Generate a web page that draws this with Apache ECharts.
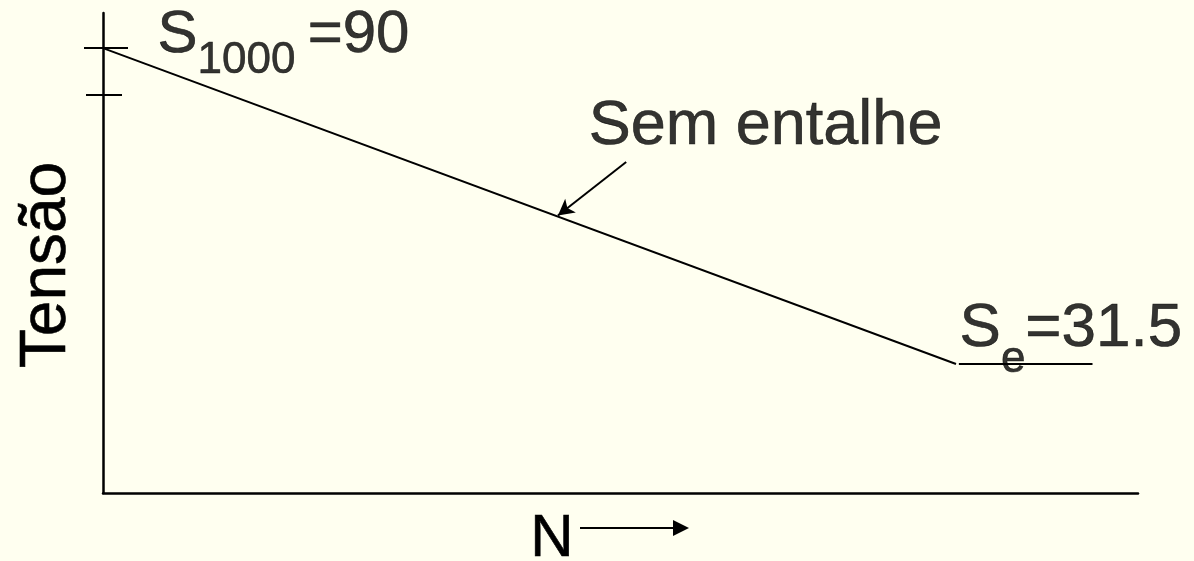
<!DOCTYPE html>
<html>
<head>
<meta charset="utf-8">
<script src="https://cdn.jsdelivr.net/npm/echarts@6/dist/echarts.min.js"></script>
<style>
  html, body { margin: 0; padding: 0; background: #FFFFF0; }
  #chart { width: 1194px; height: 561px; }
</style>
</head>
<body>
<div id="chart"></div>
<script>
// curve ends: log10(N) and tension
const logN = [3, 6]
const tensao = [90, 31.5]
// endurance limit line
const limiteN = [6.01, 6.48]
const limiteS = [31.5, 31.5]
// cross marks on the tension axis
const tickValues = [90, 81.3]
const tickOut = [19, 17]
const tickIn = [25, 19]
// arrow pointing at the curve
const setaDe = [4.84, 68.9]
const setaPara = [4.6, 59.0]

const font = '"Liberation Sans", Arial, sans-serif'
const black = '#000'
// slight outline so the glyphs come out as dark as the original
const ink = { color: black, textBorderColor: black, textBorderWidth: 0.6 }

const chart = echarts.init(document.getElementById('chart'))

const yAxes = []
tickValues.forEach((v, i) => {
  [true, false].forEach(inside => {
    yAxes.push({
      type: 'value', min: 7.6, max: 96.5, position: 'left',
      axisLine: { show: i === 0 && inside, onZero: false, lineStyle: { color: black, width: 2.5 } },
      axisTick: { show: true, inside: inside, length: inside ? tickIn[i] : tickOut[i],
                  customValues: [v], lineStyle: { color: black, width: 2 } },
      axisLabel: { show: false },
      splitLine: { show: false },
      name: (i === 0 && inside) ? 'Tensão' : '',
      nameLocation: 'middle',
      nameGap: 24,
      nameTextStyle: Object.assign({ fontSize: 64, fontFamily: font, padding: [0, 24, 0, 0] }, ink)
    })
  })
})

const rich = {
  s: Object.assign({ fontSize: 60, fontFamily: font, verticalAlign: 'top' }, ink),
  sub: Object.assign({ fontSize: 44, fontFamily: font, verticalAlign: 'top', padding: [33, 0, 0, 0] }, ink),
  s2: Object.assign({ fontSize: 62, fontFamily: font, verticalAlign: 'top' }, ink),
  sub2: Object.assign({ fontSize: 44, fontFamily: font, verticalAlign: 'top', padding: [40, 0, 0, 0] }, ink)
}

const option = {
  backgroundColor: '#FFFFF0',
  animation: false,
  grid: { left: 103, top: 13, right: 56, bottom: 68 },
  xAxis: {
    type: 'value', min: 3, max: 6.64,
    axisLine: { onZero: false, lineStyle: { color: black, width: 2.5 } },
    axisTick: { show: false },
    axisLabel: { show: false },
    splitLine: { show: false }
  },
  yAxis: yAxes,
  graphic: [
    { type: 'text', left: 530, top: 509,
      style: { text: 'N', fontSize: 60, fontFamily: font, fill: black, stroke: black, lineWidth: 0.6 } },
    { type: 'line', shape: { x1: 580, y1: 528, x2: 675, y2: 528 },
      style: { stroke: black, lineWidth: 2 } },
    { type: 'polygon', shape: { points: [[673, 520], [689, 528], [673, 536]] },
      style: { fill: black } }
  ],
  series: [
    {
      name: 'Sem entalhe',
      type: 'line',
      data: logN.map((x, i) => [x, tensao[i]]),
      symbol: 'none',
      lineStyle: { color: black, width: 2 },
      markLine: {
        silent: true,
        symbol: ['none', 'arrow'],
        symbolSize: [13, 16],
        label: { show: false },
        lineStyle: { color: black, width: 2, type: 'solid' },
        data: [[{ coord: setaDe }, { coord: setaPara }]]
      }
    },
    {
      name: 'Se',
      type: 'line',
      data: limiteN.map((x, i) => [x, limiteS[i]]),
      symbol: 'none',
      lineStyle: { color: black, width: 2 }
    },
    {
      name: 'labels',
      type: 'scatter',
      symbolSize: 1,
      itemStyle: { color: 'rgba(0,0,0,0)' },
      silent: true,
      label: { show: true, color: black, rich: rich },
      data: [
        { value: [logN[0], tensao[0]],
          label: { formatter: '{s|S}{sub|1000 }{s|=90}', position: [55, -42] } },
        { value: [logN[1], tensao[1]],
          label: { formatter: '{s2|S}{sub2|e}{s2|=31.5}', position: [4, -66] } },
        { value: setaDe,
          label: Object.assign({ formatter: 'Sem entalhe', fontSize: 63, fontFamily: font, position: [-37, -66] }, ink) }
      ]
    }
  ]
}

chart.setOption(option)
</script>
</body>
</html>
